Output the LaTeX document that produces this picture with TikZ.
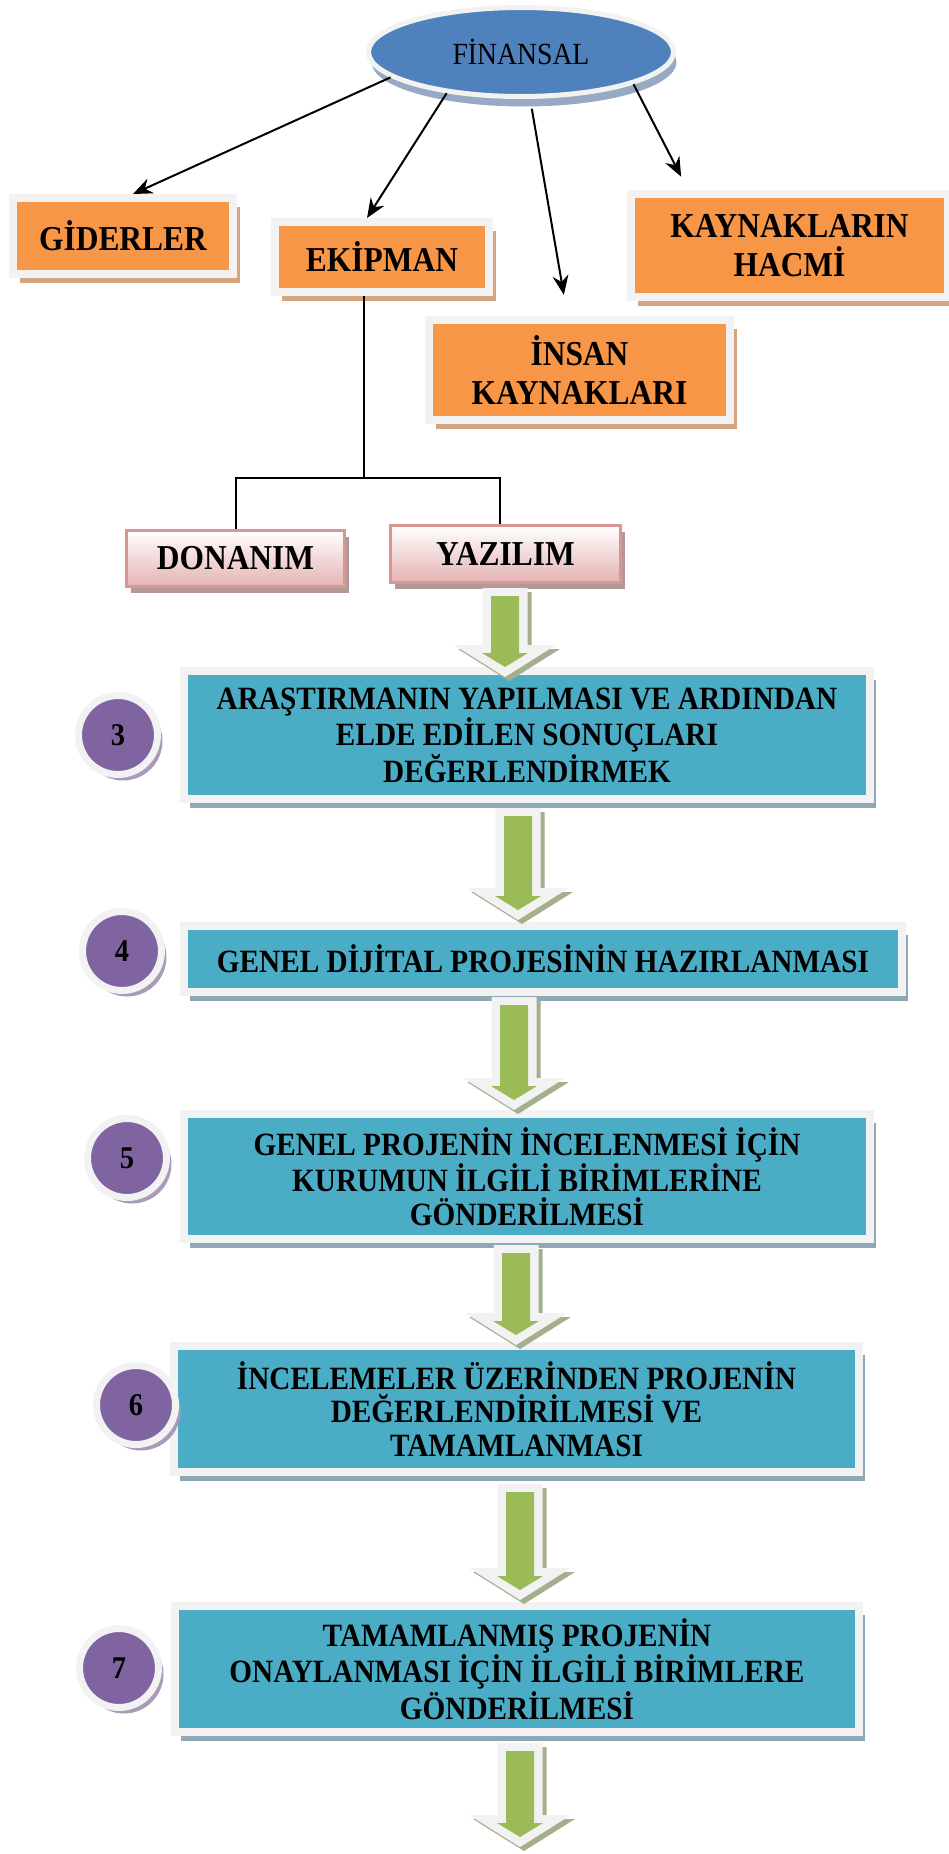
\documentclass[tikz,border=0pt]{standalone}
\usepackage{fontspec}
\setmainfont{Liberation Serif}[FakeStretch=0.9]
\usetikzlibrary{positioning,arrows.meta,shapes,shadows}

\definecolor{orangefill}{HTML}{F79646}
\definecolor{frameg}{HTML}{F2F2F2}
\definecolor{tanshadow}{HTML}{D3A680}
\definecolor{cyanfill}{HTML}{4BACC6}
\definecolor{cyanshadow}{HTML}{8FA8B6}
\definecolor{purplefill}{HTML}{8064A2}
\definecolor{purpshadow}{HTML}{A99BB8}
\definecolor{bluefill}{HTML}{4F81BD}
\definecolor{blueshadow}{HTML}{97A9C4}
\definecolor{greenfill}{HTML}{9BBB59}
\definecolor{arrshadow}{HTML}{A4AF8E}
\definecolor{pinkborder}{HTML}{D99694}
\definecolor{pinkbottom}{HTML}{E4B3B2}
\definecolor{pinkshadow}{HTML}{B39898}

\begin{document}
\begin{tikzpicture}[x=0.02cm, y=-0.02cm, > = {Stealth[length=11pt, width=9pt]},
link/.style={->, line width=0.04cm},
branch/.style={line width=0.04cm},
ellip/.style={ellipse, fill=bluefill, draw=frameg, line width=0.1cm, outer sep=0.05cm, inner sep=0pt, minimum width=6.10cm, minimum height=1.78cm, font=\fontsize{17.5}{20}\selectfont, drop shadow={shadow xshift=0.06cm, shadow yshift=-0.2cm, fill=blueshadow, opacity=1}},
topbox/.style={rectangle, fill=orangefill, draw=frameg, line width=0.16cm, outer sep=0.08cm, inner sep=0pt, align=center, font=\fontsize{19.9}{22.2}\selectfont\bfseries, drop shadow={shadow xshift=0.14cm, shadow yshift=-0.18cm, fill=tanshadow, opacity=1}},
softbox/.style={rectangle, top color=white, bottom color=pinkbottom, draw=pinkborder, line width=0.06cm, outer sep=0.03cm, inner sep=0pt, font=\fontsize{19.9}{22.2}\selectfont\bfseries, drop shadow={shadow xshift=0.09cm, shadow yshift=-0.13cm, fill=pinkshadow, opacity=1}},
stepbox/.style={rectangle, fill=cyanfill, draw=frameg, line width=0.16cm, outer sep=0.08cm, inner sep=0pt, align=center, font=\fontsize{18.5}{19}\selectfont\bfseries, drop shadow={shadow xshift=0.12cm, shadow yshift=-0.18cm, fill=cyanshadow, opacity=1}},
numdisc/.style={circle, fill=purplefill, draw=frameg, line width=0.14cm, minimum size=1.58cm, inner sep=0pt, font=\fontsize{18}{18}\selectfont\bfseries, drop shadow={shadow xshift=0.1cm, shadow yshift=-0.12cm, fill=purpshadow, opacity=1}}]

\useasboundingbox (0,0) rectangle (948,1854);

\node[ellip] (fin) at (521,52) {FİNANSAL};

% orange boxes under the ellipse
\node[topbox, minimum width=4.40cm, minimum height=1.52cm] (gid) at (123,236) {GİDERLER};
\node[topbox, minimum width=4.28cm, minimum height=1.40cm] (eki) at (382,257) {EKİPMAN};
\node[topbox, minimum width=6.34cm, minimum height=2.06cm] (kay) at (789.5,245.5) {KAYNAKLARIN\\HACMİ};
\node[topbox, minimum width=6.02cm, minimum height=2.00cm] (ins) at (579.5,370) {İNSAN\\KAYNAKLARI};

\draw[link] (fin.191) -- ([xshift=0.2cm]gid.north);
\draw[link] (fin.209) -- ([xshift=-0.3cm]eki.north);
\draw[link, shorten <=0.2cm, shorten >=0.43cm] (fin.281) -- ([xshift=-0.24cm]ins.north);
\draw[link, shorten >=0.3cm] (fin.344) -- ([xshift=-2.03cm]kay.north);

% hardware / software
\node[softbox, minimum width=4.36cm, minimum height=1.12cm] (don) at (235.5,558.5) {DONANIM};
\node[softbox, minimum width=4.60cm, minimum height=1.14cm] (yaz) at (505.5,554) {YAZILIM};

\coordinate (split) at (364,478);
\draw[branch] (eki.south -| split) -- (split);
\draw[branch] (split) -| (don.north);
\draw[branch] (split) -| ([xshift=-0.12cm]yaz.north);

% steps
\node[stepbox, minimum width=13.72cm, minimum height=2.56cm] (s3) at (527,735) {ARAŞTIRMANIN YAPILMASI VE ARDINDAN\\ELDE EDİLEN SONUÇLARI\\DEĞERLENDİRMEK};
\node[stepbox, minimum width=14.36cm, minimum height=1.32cm] (s4) at (543,959) {GENEL DİJİTAL PROJESİNİN HAZIRLANMASI};
\node[stepbox, minimum width=13.72cm, minimum height=2.50cm] (s5) at (527,1176.5) {GENEL PROJENİN İNCELENMESİ İÇİN\\KURUMUN İLGİLİ BİRİMLERİNE\\GÖNDERİLMESİ};
\node[stepbox, minimum width=13.70cm, minimum height=2.52cm] (s6) at (516.5,1409) {İNCELEMELER ÜZERİNDEN PROJENİN\\DEĞERLENDİRİLMESİ VE\\TAMAMLANMASI};
\node[stepbox, minimum width=13.68cm, minimum height=2.52cm] (s7) at (517,1669) {TAMAMLANMIŞ PROJENİN\\ONAYLANMASI İÇİN İLGİLİ BİRİMLERE\\GÖNDERİLMESİ};

\node[numdisc] (c3) at (118,735) {3};
\node[numdisc] (c4) at (122,951) {4};
\node[numdisc] (c5) at (127,1158) {5};
\node[numdisc] (c6) at (136,1405) {6};
\node[numdisc] (c7) at (119,1668) {7};

% green block arrows
\foreach \cx/\ta/\tb in {505/588/677, 518/808/920, 514/997/1110, 516/1245/1345, 520/1484/1600, 520/1743/1847}
{
\fill[arrshadow, xshift=0.08cm, yshift=-0.08cm] ({\cx-22.5},\ta) -- ({\cx+22.5},\ta) -- ({\cx+22.5},{\tb-32}) -- ({\cx+51},{\tb-32}) -- (\cx,\tb) -- ({\cx-51},{\tb-32}) -- ({\cx-22.5},{\tb-32}) -- cycle;
\fill[frameg] ({\cx-22.5},\ta) -- ({\cx+22.5},\ta) -- ({\cx+22.5},{\tb-32}) -- ({\cx+51},{\tb-32}) -- (\cx,\tb) -- ({\cx-51},{\tb-32}) -- ({\cx-22.5},{\tb-32}) -- cycle;
\fill[greenfill] ({\cx-14},{\ta+8}) -- ({\cx+14},{\ta+8}) -- ({\cx+14},{\tb-24}) -- ({\cx+23},{\tb-24}) -- (\cx,{\tb-10}) -- ({\cx-23},{\tb-24}) -- ({\cx-14},{\tb-24}) -- cycle;
}

\end{tikzpicture}
\end{document}
